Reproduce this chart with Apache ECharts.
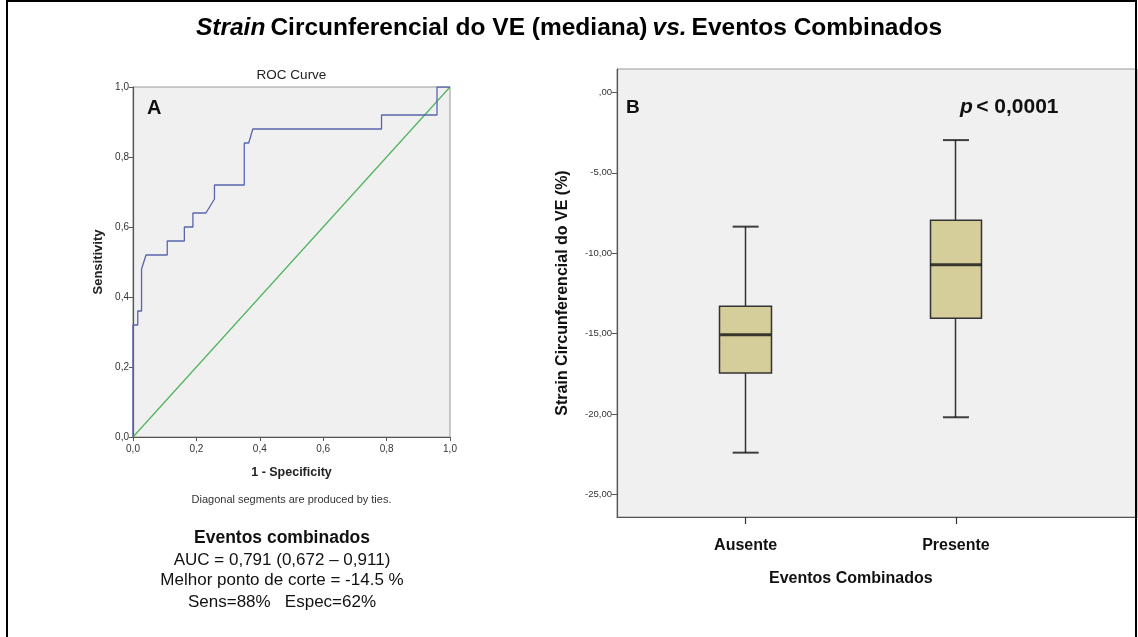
<!DOCTYPE html>
<html>
<head>
<meta charset="utf-8">
<script src="https://cdn.jsdelivr.net/npm/echarts@6/dist/echarts.min.js"></script>
<style>
html,body{margin:0;padding:0;background:#fff;}
#c{width:1138px;height:637px;}
</style>
</head>
<body>
<div id="c"></div>
<script>
// ---- ROC data (1 - specificity, sensitivity) ----
var rocX = [0, 0, 0.015, 0.015, 0.027, 0.027, 0.041, 0.108, 0.108, 0.162, 0.162, 0.189, 0.189, 0.230, 0.257, 0.257, 0.351, 0.351, 0.365, 0.378, 0.784, 0.784, 0.959, 0.959, 1.0];
var rocY = [0, 0.32, 0.32, 0.36, 0.36, 0.48, 0.52, 0.52, 0.56, 0.56, 0.60, 0.60, 0.64, 0.64, 0.68, 0.72, 0.72, 0.84, 0.84, 0.88, 0.88, 0.92, 0.92, 1.0, 1.0];
var refX = [0, 1];
var refY = [0, 1];

// ---- Box plot data ----
var categories = ['Ausente', 'Presente'];
var whiskerLow = [-22.4, -20.2];
var q1 = [-17.45, -14.05];
var median = [-15.07, -10.72];
var q3 = [-13.3, -7.95];
var whiskerHigh = [-8.35, -2.97];
var boxTicks = [0, -5, -10, -15, -20, -25];
var boxMin = -26.4, boxMax = 1.45;

var FONT = '"Liberation Sans", Arial, Helvetica, sans-serif';

var rocData = rocX.map(function (x, i) { return [x, rocY[i]]; });
var refData = refX.map(function (x, i) { return [x, refY[i]]; });
var candleData = categories.map(function (c, i) { return [q1[i], q3[i], whiskerLow[i], whiskerHigh[i]]; });
var medData = categories.map(function (c, i) { return [c, median[i]]; });
var capData = [];
categories.forEach(function (c, i) { capData.push([c, whiskerHigh[i]]); capData.push([c, whiskerLow[i]]); });

function rocFmt(v) { return v.toFixed(1).replace('.', ','); }
function boxFmt(v) { return v === 0 ? ',00' : v.toFixed(2).replace('.', ','); }

var chart = echarts.init(document.getElementById('c'), null, { renderer: 'canvas' });
var axisDark = '#555';
var option = {
  backgroundColor: '#fff',
  animation: false,
  textStyle: { fontFamily: FONT },
  title: {
    left: 'center', top: 11,
    text: '{i|Strain} {b|Circunferencial do VE (mediana)} {i|vs.} {b|Eventos Combinados}',
    textStyle: {
      rich: {
        i: { fontFamily: FONT, fontSize: 24.5, fontWeight: 'bold', fontStyle: 'italic', color: '#000' },
        b: { fontFamily: FONT, fontSize: 24.5, fontWeight: 'bold', color: '#000' }
      }
    }
  },
  grid: [
    { left: 133, top: 87, width: 317, height: 350, show: true, backgroundColor: '#f0f0f0', borderColor: '#999', borderWidth: 1 },
    { left: 617, top: 69, width: 520, height: 448, show: true, backgroundColor: '#f0f0f0', borderColor: '#999', borderWidth: 1 },
    { left: 640.5, top: 69, width: 420.6, height: 448, show: false }
  ],
  xAxis: [
    {
      gridIndex: 0, type: 'value', min: 0, max: 1, interval: 0.2,
      axisLine: { show: true, onZero: false, lineStyle: { color: axisDark, width: 1.2 } },
      axisTick: { show: true, length: 4, lineStyle: { color: axisDark } },
      axisLabel: { fontSize: 10, color: '#333', margin: 7, formatter: rocFmt, fontFamily: FONT },
      splitLine: { show: false },
      name: '1 - Specificity', nameLocation: 'middle', nameGap: 29,
      nameTextStyle: { fontSize: 12.5, fontWeight: 'bold', color: '#222', fontFamily: FONT }
    },
    {
      gridIndex: 1, type: 'value', min: 0, max: 1,
      axisLine: { show: true, onZero: false, lineStyle: { color: axisDark, width: 1.2 } },
      axisTick: { show: false }, axisLabel: { show: false }, splitLine: { show: false }
    },
    {
      gridIndex: 2, type: 'category', data: categories, boundaryGap: true,
      axisLine: { show: false, onZero: false },
      axisTick: { show: true, alignWithLabel: true, length: 7, lineStyle: { color: '#333', width: 1.2 } },
      axisLabel: { fontSize: 16, fontWeight: 'bold', color: '#111', margin: 21, fontFamily: FONT },
      splitLine: { show: false },
      name: 'Eventos Combinados', nameLocation: 'middle', nameGap: 54,
      nameTextStyle: { fontSize: 16, fontWeight: 'bold', color: '#111', fontFamily: FONT }
    }
  ],
  yAxis: [
    {
      gridIndex: 0, type: 'value', min: 0, max: 1, interval: 0.2,
      axisLine: { show: true, onZero: false, lineStyle: { color: axisDark, width: 1.2 } },
      axisTick: { show: true, length: 4, lineStyle: { color: axisDark } },
      axisLabel: { fontSize: 10, color: '#333', margin: 4, formatter: rocFmt, fontFamily: FONT },
      splitLine: { show: false },
      name: 'Sensitivity', nameLocation: 'middle', nameGap: 28,
      nameTextStyle: { fontSize: 13, fontWeight: 'bold', color: '#222', fontFamily: FONT }
    },
    {
      gridIndex: 1, type: 'value', min: boxMin, max: boxMax,
      axisLine: { show: true, onZero: false, lineStyle: { color: axisDark, width: 1.2 } },
      axisTick: { show: true, length: 5, customValues: boxTicks, lineStyle: { color: axisDark } },
      axisLabel: { fontSize: 9.5, color: '#333', margin: 5, customValues: boxTicks, formatter: boxFmt, fontFamily: FONT },
      splitLine: { show: false },
      name: 'Strain Circunferencial do VE (%)', nameLocation: 'middle', nameGap: 46,
      nameTextStyle: { fontSize: 16, fontWeight: 'bold', color: '#111', fontFamily: FONT }
    },
    {
      gridIndex: 2, type: 'value', min: boxMin, max: boxMax, show: false,
      splitLine: { show: false }
    }
  ],
  series: [
    {
      type: 'line', xAxisIndex: 0, yAxisIndex: 0, data: refData, showSymbol: false, symbol: 'none',
      lineStyle: { color: '#4db35c', width: 1.2 }, z: 2
    },
    {
      type: 'line', xAxisIndex: 0, yAxisIndex: 0, data: rocData, showSymbol: false, symbol: 'none',
      lineStyle: { color: '#5865ac', width: 1.3 }, z: 3
    },
    {
      type: 'candlestick', xAxisIndex: 2, yAxisIndex: 2, data: candleData, barWidth: 52,
      itemStyle: { color: '#d5cd9a', color0: '#d5cd9a', borderColor: '#333', borderColor0: '#333', borderWidth: 1.5 },
      z: 3
    },
    {
      type: 'scatter', xAxisIndex: 2, yAxisIndex: 2, data: capData, symbol: 'rect', symbolSize: [26, 2],
      itemStyle: { color: '#111' }, z: 4
    },
    {
      type: 'scatter', xAxisIndex: 2, yAxisIndex: 2, data: medData, symbol: 'rect', symbolSize: [51, 3],
      itemStyle: { color: '#111' }, z: 5
    }
  ],
  graphic: [
    { type: 'rect', shape: { x: 7, y: 1, width: 1129, height: 700 }, style: { fill: 'none', stroke: '#000', lineWidth: 2 }, silent: true, z: 100 },
    { type: 'text', x: 291.5, y: 75, style: { text: 'ROC Curve', fontSize: 13.5, fontFamily: FONT, fill: '#222', align: 'center', verticalAlign: 'middle' } },
    { type: 'text', x: 147, y: 108, style: { text: 'A', fontSize: 20, fontWeight: 'bold', fontFamily: FONT, fill: '#111', verticalAlign: 'middle' } },
    { type: 'text', x: 626, y: 108, style: { text: 'B', fontSize: 19, fontWeight: 'bold', fontFamily: FONT, fill: '#111', verticalAlign: 'middle' } },
    { type: 'text', x: 960, y: 107, style: {
        text: '{i|p} {b|< 0,0001}', verticalAlign: 'middle',
        rich: {
          i: { fontSize: 21, fontWeight: 'bold', fontStyle: 'italic', fontFamily: FONT, fill: '#111' },
          b: { fontSize: 21, fontWeight: 'bold', fontFamily: FONT, fill: '#111' }
        } } },
    { type: 'text', x: 291.5, y: 500, style: { text: 'Diagonal segments are produced by ties.', fontSize: 11, fontFamily: FONT, fill: '#333', align: 'center', verticalAlign: 'middle' } },
    { type: 'text', x: 282, y: 538, style: { text: 'Eventos combinados', fontSize: 17.5, fontWeight: 'bold', fontFamily: FONT, fill: '#111', align: 'center', verticalAlign: 'middle' } },
    { type: 'text', x: 282, y: 560, style: { text: 'AUC = 0,791 (0,672 \u2013 0,911)', fontSize: 17, fontFamily: FONT, fill: '#111', align: 'center', verticalAlign: 'middle' } },
    { type: 'text', x: 282, y: 580, style: { text: 'Melhor ponto de corte = -14.5 %', fontSize: 17, fontFamily: FONT, fill: '#111', align: 'center', verticalAlign: 'middle' } },
    { type: 'text', x: 282, y: 602, style: { text: 'Sens=88%   Espec=62%', fontSize: 17, fontFamily: FONT, fill: '#111', align: 'center', verticalAlign: 'middle' } }
  ]
};
chart.setOption(option);
</script>
</body>
</html>
